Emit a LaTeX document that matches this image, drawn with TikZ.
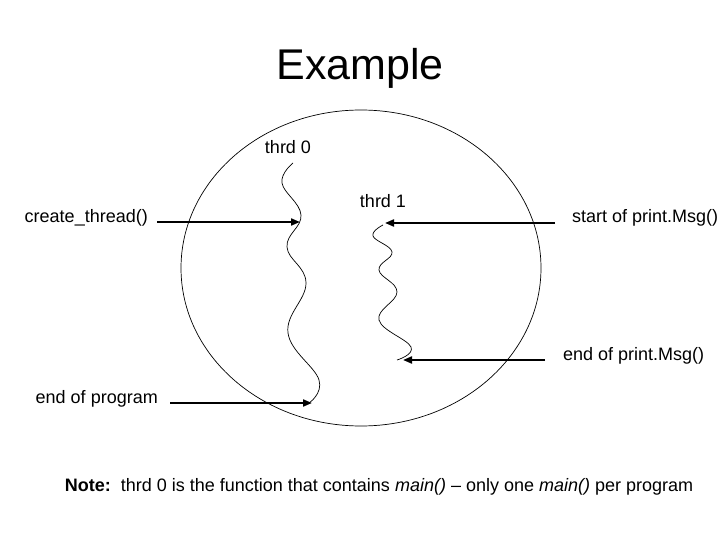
\documentclass[tikz,border=0pt]{standalone}
\usepackage{fontspec}
\setmainfont{Liberation Sans}
\usetikzlibrary{arrows.meta, positioning}

\begin{document}
\begin{tikzpicture}[x=1pt, y=-1pt,
    etiqueta/.style={font=\fontsize{18}{21}\selectfont, inner sep=0pt},
    flecha/.style={line width=2pt, -{Triangle[length=9pt, width=7pt]}},
    hilo/.style={line width=0.7pt},
  ]
  \useasboundingbox (0,0) rectangle (720,540);

  % Titulo
  \node[font=\fontsize{43}{50}\selectfont] (titulo) at (360,68) {Example};

  % Proceso (elipse)
  \draw[line width=0.7pt] (361,268) ellipse [x radius=180, y radius=158];

  % Hilos
  \node[etiqueta] (t0) at (288,147) {thrd 0};
  \node[etiqueta] (t1) at (383,201) {thrd 1};
  \draw[hilo] plot[smooth, tension=0.7] coordinates {(293,163) (282,183) (301,215) (287,247) (306,283) (288,333) (319,380) (309,403)};
  \draw[hilo] plot[smooth, tension=0.7] coordinates {(383,225) (373,236) (392,252) (379,270) (397,292) (379,320) (411,347) (397,360)};

  % Puntos de los hilos
  \coordinate (crea) at (300,222);
  \coordinate (fin0) at (312,403);
  \coordinate (ini1) at (385,223);
  \coordinate (fin1) at (403,360);

  % Etiquetas
  \node[etiqueta, anchor=east] (create) at (148,218) {create\_thread()};
  \node[etiqueta, anchor=east] (endprog) at (158,399) {end of program};
  \node[etiqueta, anchor=west] (startmsg) at (572,218) {start of print.Msg()};
  \node[etiqueta, anchor=west] (endmsg) at (563,356) {end of print.Msg()};

  % Flechas
  \draw[flecha, shorten <=9pt] (create.east |- crea) -- (crea);
  \draw[flecha, shorten <=12pt] (endprog.east |- fin0) -- (fin0);
  \draw[flecha, shorten <=17pt] (startmsg.west |- ini1) -- (ini1);
  \draw[flecha, shorten <=18pt] (endmsg.west |- fin1) -- (fin1);

  % Nota
  \node[etiqueta] (nota) at (379,487) {\textbf{Note:}\ \ thrd 0 is the function that contains \textit{main()} – only one \textit{main()} per program};
\end{tikzpicture}
\end{document}
